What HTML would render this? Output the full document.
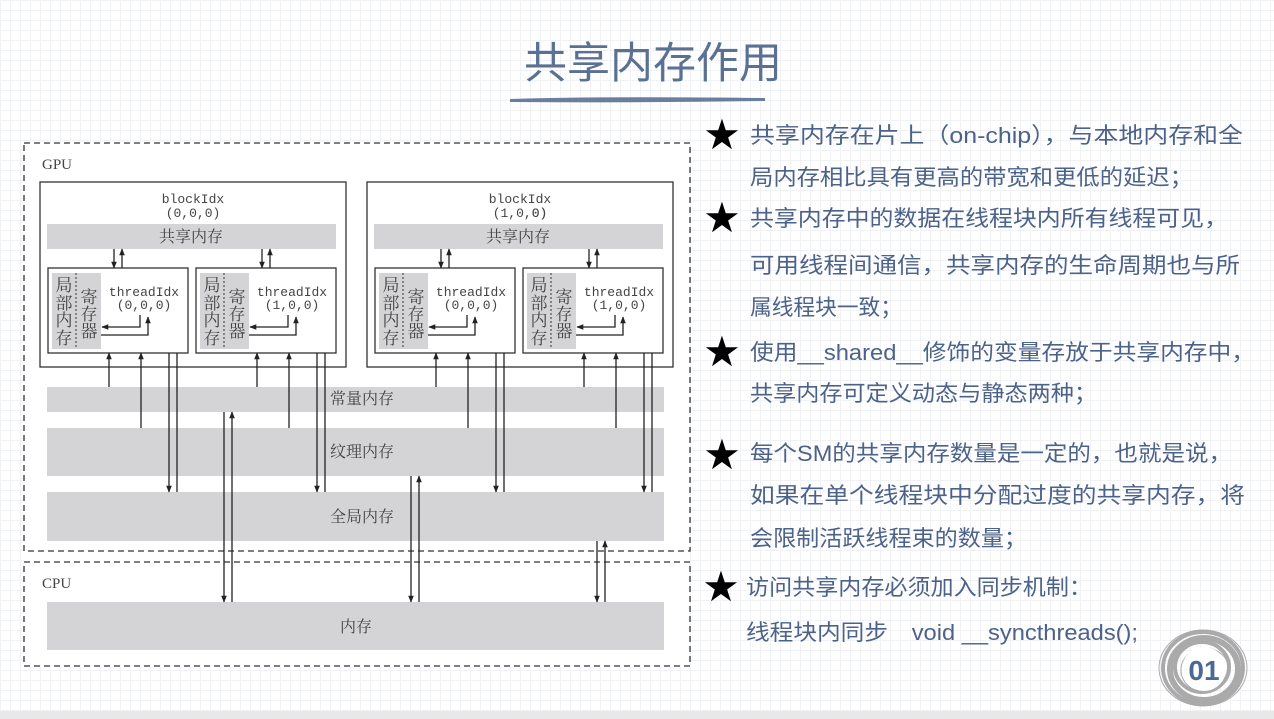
<!DOCTYPE html>
<html><head><meta charset="utf-8"><style>
html,body{margin:0;padding:0;}
body{width:1274px;height:719px;overflow:hidden;background-color:#fff;
background-image:linear-gradient(#f0f2f5 1px,transparent 1px),linear-gradient(90deg,#f0f2f5 1px,transparent 1px);background-size:10px 10px;}
svg{position:absolute;left:0;top:0}
</style></head><body>
<svg width="1274" height="719" viewBox="0 0 1274 719" xmlns="http://www.w3.org/2000/svg">
<defs>
<marker id="a" viewBox="0 0 10 10" refX="9" refY="5" markerWidth="7" markerHeight="7" markerUnits="userSpaceOnUse" orient="auto"><path d="M0,1 L10,5 L0,9 z" fill="#222"/></marker>
</defs>
<text x="653" y="78" text-anchor="middle" font-family="'Liberation Sans','Noto Sans CJK SC',sans-serif" font-size="43" fill="#5a7193">共享内存作用</text>
<path d="M510,99 Q600,96 765,98 L765,101 Q640,103 510,102 z" fill="#5a7193" opacity="0.9"/>
<rect x="0" y="711" width="1274" height="8" fill="#e8e8e8"/>
<rect x="24" y="143" width="666" height="523" fill="#fff"/>
<g font-family="'Liberation Serif','Noto Serif CJK SC',serif" fill="#444">
<rect x="24" y="143" width="666" height="408" fill="none" stroke="#333" stroke-width="1.3" stroke-dasharray="6,4"/>
<rect x="24" y="562" width="666" height="104" fill="none" stroke="#333" stroke-width="1.3" stroke-dasharray="6,4"/>
<text x="42" y="169" font-size="15">GPU</text>
<text x="42" y="588" font-size="15">CPU</text>
<rect x="47" y="387" width="617" height="25" fill="#d4d4d6"/>
<rect x="47" y="428" width="617" height="48" fill="#d4d4d6"/>
<rect x="47" y="492" width="617" height="49" fill="#d4d4d6"/>
<rect x="47" y="602" width="617" height="48" fill="#d4d4d6"/>
<text x="362" y="404" font-size="16" text-anchor="middle">常量内存</text>
<text x="362" y="457" font-size="16" text-anchor="middle">纹理内存</text>
<text x="362" y="522" font-size="16" text-anchor="middle">全局内存</text>
<text x="356" y="632" font-size="16" text-anchor="middle">内存</text>
</g>
<g id="blk" font-family="'Liberation Mono','Noto Serif CJK SC',monospace" fill="#444">
<rect x="40" y="182" width="306" height="185" fill="#fff" stroke="#333" stroke-width="1.3"/>
<text x="193" y="203" font-size="13" text-anchor="middle">blockIdx</text>
<text x="193" y="217" font-size="13" text-anchor="middle">(0,0,0)</text>
<rect x="47" y="224" width="289" height="25" fill="#d4d4d6"/>
<text x="191" y="242" font-size="16" text-anchor="middle" font-family="'Noto Serif CJK SC',serif">共享内存</text>
<g id="thr">
<rect x="48" y="268" width="140" height="85" fill="#fff" stroke="#333" stroke-width="1.3"/>
<rect x="52" y="273" width="49" height="76" fill="#d4d4d6"/>
<line x1="76" y1="273" x2="76" y2="349" stroke="#333" stroke-dasharray="2,2"/>
<g font-family="'Noto Serif CJK SC',serif" font-size="17" text-anchor="middle">
<text x="64" y="291">局</text><text x="64" y="309">部</text><text x="64" y="326">内</text><text x="64" y="344">存</text>
<text x="89" y="303">寄</text><text x="89" y="320">存</text><text x="89" y="337">器</text></g>
<text x="144" y="296" font-size="13" text-anchor="middle">threadIdx</text>
<text x="144" y="309" font-size="13" text-anchor="middle">(0,0,0)</text>
<polyline points="140,315 140,327 102,327" fill="none" stroke="#222" stroke-width="1.3" marker-end="url(#a)"/>
<polyline points="101,335 148,335 148,317" fill="none" stroke="#222" stroke-width="1.3" marker-end="url(#a)"/>
<line x1="114" y1="249" x2="114" y2="268" stroke="#222" stroke-width="1.3" marker-end="url(#a)"/>
<line x1="122" y1="268" x2="122" y2="249" stroke="#222" stroke-width="1.3" marker-end="url(#a)"/>
<line x1="109" y1="387" x2="109" y2="353" stroke="#222" stroke-width="1.3" marker-end="url(#a)"/>
<line x1="141" y1="428" x2="141" y2="353" stroke="#222" stroke-width="1.3" marker-end="url(#a)"/>
<line x1="169" y1="353" x2="169" y2="492" stroke="#222" stroke-width="1.3" marker-end="url(#a)"/>
<line x1="177" y1="353" x2="177" y2="492" stroke="#222" stroke-width="1.3"/>
</g>
<use href="#thr" transform="translate(148,0)"/>
</g>
<use href="#blk" transform="translate(327,0)"/>
<rect x="250" y="298" width="82" height="14" fill="#fff"/>
<text x="292" y="309" font-size="13" text-anchor="middle" font-family="'Liberation Mono',monospace" fill="#444">(1,0,0)</text>
<rect x="460" y="205" width="70" height="15" fill="#fff"/>
<text x="520" y="217" font-size="13" text-anchor="middle" font-family="'Liberation Mono',monospace" fill="#444">(1,0,0)</text>
<rect x="578" y="298" width="82" height="14" fill="#fff"/>
<text x="619" y="309" font-size="13" text-anchor="middle" font-family="'Liberation Mono',monospace" fill="#444">(1,0,0)</text>
<g stroke="#222" stroke-width="1.3">
<line x1="224" y1="412" x2="224" y2="602" marker-end="url(#a)"/>
<line x1="232" y1="602" x2="232" y2="412" marker-end="url(#a)"/>
<line x1="411" y1="476" x2="411" y2="602" marker-end="url(#a)"/>
<line x1="419" y1="602" x2="419" y2="476" marker-end="url(#a)"/>
<line x1="597" y1="541" x2="597" y2="602" marker-end="url(#a)"/>
<line x1="605" y1="602" x2="605" y2="541" marker-end="url(#a)"/>
</g>
<g font-family="'Liberation Sans','Noto Sans CJK SC',sans-serif" font-size="22" fill="#4d6289">
<text x="750" y="143" textLength="493" lengthAdjust="spacingAndGlyphs">共享内存在片上（on-chip），与本地内存和全</text>
<text x="750" y="185" textLength="443" lengthAdjust="spacingAndGlyphs">局内存相比具有更高的带宽和更低的延迟；</text>
<text x="750" y="226" textLength="478" lengthAdjust="spacingAndGlyphs">共享内存中的数据在线程块内所有线程可见，</text>
<text x="750" y="273" textLength="490" lengthAdjust="spacingAndGlyphs">可用线程间通信，共享内存的生命周期也与所</text>
<text x="750" y="315" textLength="152" lengthAdjust="spacingAndGlyphs">属线程块一致；</text>
<text x="750" y="360" textLength="505" lengthAdjust="spacingAndGlyphs">使用__shared__修饰的变量存放于共享内存中，</text>
<text x="750" y="401" textLength="347" lengthAdjust="spacingAndGlyphs">共享内存可定义动态与静态两种；</text>
<text x="750" y="461" textLength="482" lengthAdjust="spacingAndGlyphs">每个SM的共享内存数量是一定的，也就是说，</text>
<text x="750" y="503" textLength="495" lengthAdjust="spacingAndGlyphs">如果在单个线程块中分配过度的共享内存，将</text>
<text x="750" y="546" textLength="277" lengthAdjust="spacingAndGlyphs">会限制活跃线程束的数量；</text>
<text x="746" y="595" textLength="346" lengthAdjust="spacingAndGlyphs">访问共享内存必须加入同步机制：</text>
<text x="746" y="640" textLength="392" lengthAdjust="spacingAndGlyphs">线程块内同步　void __syncthreads();</text>
</g>
<g font-family="'DejaVu Sans',sans-serif" font-size="42" fill="#000" text-anchor="middle">
<text x="722" y="149">★</text><text x="722" y="232">★</text><text x="722" y="366">★</text><text x="722" y="469">★</text><text x="721" y="601">★</text>
</g>
<g fill="none" stroke="#aaa" stroke-width="1">
<ellipse cx="1203" cy="668" rx="44" ry="38"/><ellipse cx="1203" cy="668" rx="40" ry="36" stroke-width="4"/><ellipse cx="1204" cy="669" rx="34" ry="31" stroke-width="6"/><ellipse cx="1202" cy="667" rx="27" ry="25" stroke-width="4"/><ellipse cx="1205" cy="670" rx="24" ry="22"/>
</g>
<circle cx="1204" cy="669" r="22" fill="#fff"/>
<text x="1204" y="680" text-anchor="middle" font-family="'Liberation Sans',sans-serif" font-weight="bold" font-size="28" fill="#4a6a94">01</text>
</svg>
</body></html>
